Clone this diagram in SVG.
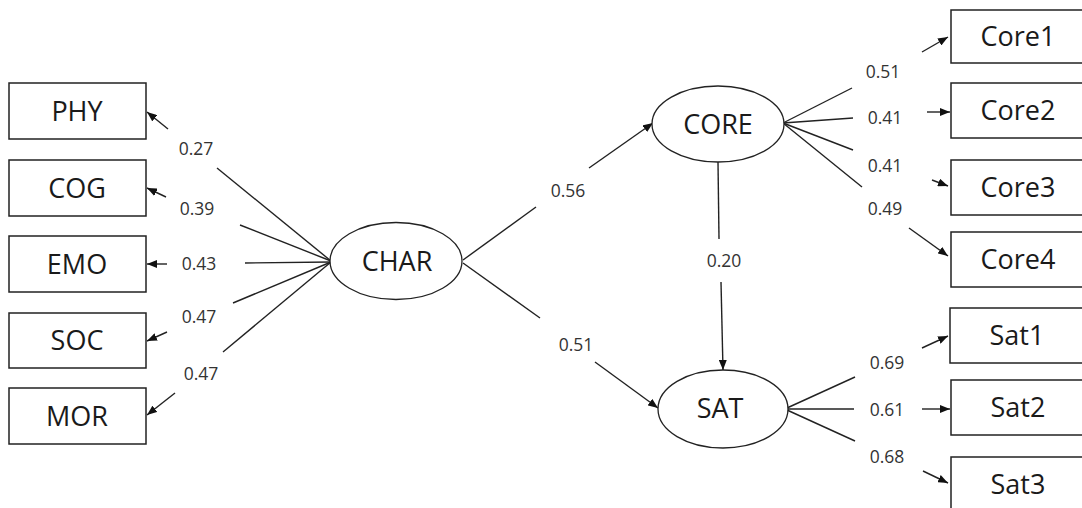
<svg xmlns="http://www.w3.org/2000/svg" width="1082" height="508" viewBox="0 0 1082 508">
<defs>
<marker id="ah" markerUnits="userSpaceOnUse" markerWidth="11" markerHeight="8" refX="10" refY="4" orient="auto">
<path d="M0,0 L10,4 L0,8 z" fill="#111"/>
</marker>
<style>
.box{fill:#fff;stroke:#222;stroke-width:1.5}
.lat{fill:#fff;stroke:#222;stroke-width:1.3}
.nt{font-family:"Open Sans","Noto Sans","Liberation Sans",sans-serif;font-size:27px;fill:#1a1a1a;text-anchor:middle}
.el{font-family:"Open Sans","Noto Sans","Liberation Sans",sans-serif;font-size:17.5px;fill:#333;text-anchor:middle}
.ln{stroke:#222;stroke-width:1.4;fill:none}
.ar{stroke:#222;stroke-width:1.4;fill:none;marker-end:url(#ah)}
</style>
</defs>
<rect width="1082" height="508" fill="#fff"/>
<g id="connectors">
<!-- CHAR to indicators -->
<line class="ln" x1="331" y1="261" x2="217" y2="168"/>
<line class="ar" x1="168" y1="129" x2="147" y2="112"/>
<line class="ln" x1="331" y1="261" x2="240" y2="225"/>
<line class="ar" x1="166" y1="197" x2="147" y2="188"/>
<line class="ln" x1="331" y1="262" x2="245" y2="263"/>
<line class="ar" x1="167" y1="264" x2="147" y2="264"/>
<line class="ln" x1="331" y1="262" x2="233" y2="303"/>
<line class="ar" x1="167" y1="332" x2="147" y2="341"/>
<line class="ln" x1="331" y1="262" x2="223" y2="352"/>
<line class="ar" x1="175" y1="393" x2="147" y2="415"/>
<!-- structural -->
<line class="ln" x1="463" y1="260" x2="536" y2="207"/>
<line class="ar" x1="589" y1="168" x2="653" y2="123"/>
<line class="ln" x1="463" y1="263" x2="540" y2="318"/>
<line class="ar" x1="595" y1="362" x2="658" y2="408"/>
<line class="ln" x1="718" y1="162" x2="719" y2="239"/>
<line class="ar" x1="721" y1="282" x2="723" y2="370"/>
<!-- CORE to indicators -->
<line class="ln" x1="783" y1="123" x2="852" y2="88"/>
<line class="ar" x1="922" y1="52" x2="948" y2="37"/>
<line class="ln" x1="783" y1="123" x2="853" y2="118"/>
<line class="ar" x1="927" y1="112" x2="950" y2="112"/>
<line class="ln" x1="783" y1="123" x2="853" y2="150"/>
<line class="ar" x1="932" y1="180" x2="948" y2="186"/>
<line class="ln" x1="783" y1="123" x2="862" y2="187"/>
<line class="ar" x1="909" y1="228" x2="948" y2="256"/>
<!-- SAT to indicators -->
<line class="ln" x1="787" y1="408" x2="855" y2="377"/>
<line class="ar" x1="922" y1="348" x2="948" y2="336"/>
<line class="ln" x1="787" y1="409" x2="854" y2="409"/>
<line class="ar" x1="922" y1="409" x2="950" y2="409"/>
<line class="ln" x1="787" y1="410" x2="855" y2="441"/>
<line class="ar" x1="923" y1="471" x2="948" y2="483"/>
<!-- labels -->
<text class="el" x="196" y="155">0.27</text>
<text class="el" x="197" y="215">0.39</text>
<text class="el" x="199" y="270">0.43</text>
<text class="el" x="199" y="323">0.47</text>
<text class="el" x="201" y="380">0.47</text>
<text class="el" x="568" y="197">0.56</text>
<text class="el" x="576" y="351">0.51</text>
<text class="el" x="724" y="267">0.20</text>
<text class="el" x="883" y="78">0.51</text>
<text class="el" x="885" y="124">0.41</text>
<text class="el" x="885" y="172">0.41</text>
<text class="el" x="885" y="215">0.49</text>
<text class="el" x="887" y="369">0.69</text>
<text class="el" x="887" y="416">0.61</text>
<text class="el" x="887" y="463">0.68</text>
</g>
<g id="PHY"><rect class="box" x="9" y="83" width="137" height="56"/><text class="nt" x="77" y="121">PHY</text></g>
<g id="COG"><rect class="box" x="9" y="160" width="137" height="56"/><text class="nt" x="77" y="198">COG</text></g>
<g id="EMO"><rect class="box" x="9" y="236" width="137" height="56"/><text class="nt" x="77" y="274">EMO</text></g>
<g id="SOC"><rect class="box" x="9" y="313" width="137" height="55"/><text class="nt" x="77" y="350">SOC</text></g>
<g id="MOR"><rect class="box" x="9" y="388" width="137" height="56"/><text class="nt" x="77" y="426">MOR</text></g>
<g id="CHAR"><ellipse class="lat" cx="396" cy="261" rx="66" ry="38.5"/><text class="nt" x="397" y="271">CHAR</text></g>
<g id="CORE"><ellipse class="lat" cx="718" cy="124" rx="66" ry="38"/><text class="nt" x="718" y="134">CORE</text></g>
<g id="SAT"><ellipse class="lat" cx="723" cy="409" rx="65" ry="39"/><text class="nt" x="720" y="418">SAT</text></g>
<g id="Core1"><rect class="box" x="951" y="10" width="137" height="53"/><text class="nt" x="1018" y="46">Core1</text></g>
<g id="Core2"><rect class="box" x="951" y="83" width="137" height="55"/><text class="nt" x="1018" y="120">Core2</text></g>
<g id="Core3"><rect class="box" x="951" y="160" width="137" height="55"/><text class="nt" x="1018" y="197">Core3</text></g>
<g id="Core4"><rect class="box" x="951" y="232" width="137" height="55"/><text class="nt" x="1018" y="269">Core4</text></g>
<g id="Sat1"><rect class="box" x="950" y="308" width="138" height="55"/><text class="nt" x="1017" y="345">Sat1</text></g>
<g id="Sat2"><rect class="box" x="951" y="380" width="137" height="55"/><text class="nt" x="1018" y="417">Sat2</text></g>
<g id="Sat3"><rect class="box" x="951" y="457" width="137" height="56"/><text class="nt" x="1018" y="494">Sat3</text></g>
</svg>
